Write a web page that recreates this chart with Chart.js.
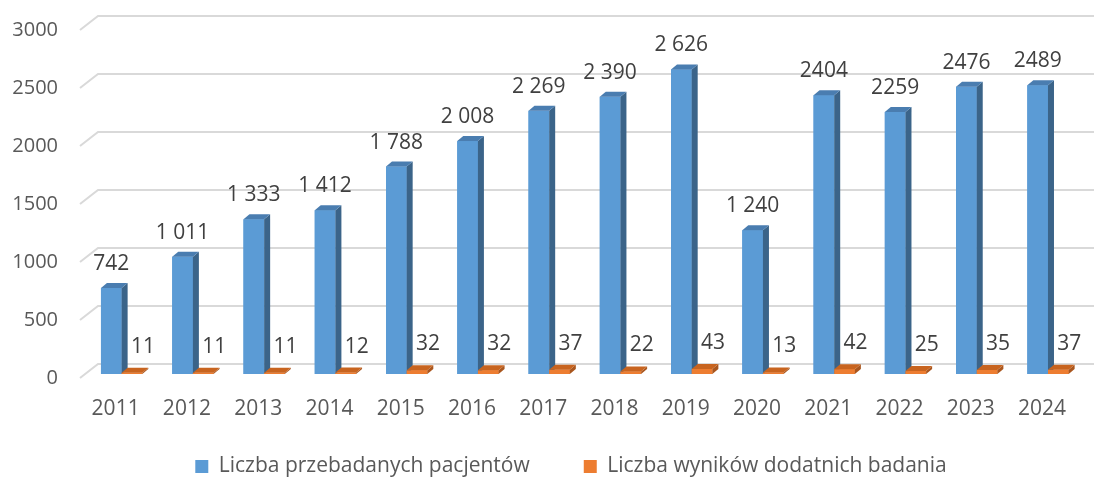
<!DOCTYPE html>
<html>
<head>
<meta charset="utf-8">
<script src="https://cdn.jsdelivr.net/npm/chart.js@4/dist/chart.umd.min.js"></script>
<style>
  html, body { margin: 0; padding: 0; background: #fff; overflow: hidden; }
  #wrap { width: 1094px; height: 477px; position: relative; }
</style>
</head>
<body>
<div id="wrap"><canvas id="grafico"></canvas></div>
<script>
const lata = ['2011', '2012', '2013', '2014', '2015', '2016', '2017', '2018', '2019', '2020', '2021', '2022', '2023', '2024'];
const pacjenci = [742, 1011, 1333, 1412, 1788, 2008, 2269, 2390, 2626, 1240, 2404, 2259, 2476, 2489];
const dodatnie = [11, 11, 11, 12, 32, 32, 37, 22, 43, 13, 42, 25, 35, 37];
const etykietyPacjenci = ['742', '1 011', '1 333', '1 412', '1 788', '2 008', '2 269', '2 390', '2 626', '1 240', '2404', '2259', '2476', '2489'];
const etykietyDodatnie = dodatnie.map(String);
const osY = [0, 500, 1000, 1500, 2000, 2500, 3000];

const FONT = '"Open Sans", sans-serif';
const glebokosc = { dx: 6, dy: 5 };

const kolory = [
    { front: '#5B9BD5', side: '#3B6489', top: '#4A7DB0' },
    { front: '#ED7D31', side: '#A9561E', top: '#C8641F' }
];

// siatka "3D": krotki skos z przodu + linia na tylnej scianie
const siatka3d = {
    id: 'siatka3d',
    beforeDatasetsDraw(chart) {
        const { ctx, scales: { y }, width } = chart;
        ctx.save();
        ctx.strokeStyle = '#D9D9D9';
        ctx.lineWidth = 2;
        osY.forEach(v => {
            const py = y.getPixelForValue(v);
            ctx.beginPath();
            ctx.moveTo(80, py + 4);
            ctx.lineTo(98, py - 10);
            ctx.lineTo(width, py - 10);
            ctx.stroke();
        });
        ctx.restore();
    }
};

function prostopadloscian(ctx, bar, kol) {
    const { x, y, base, width } = bar.getProps(['x', 'y', 'base', 'width'], true);
    const l = x - width / 2, r = x + width / 2;
    const { dx, dy } = glebokosc;
    ctx.fillStyle = kol.front;
    ctx.fillRect(l, y, width, base - y);
    ctx.fillStyle = kol.side;
    ctx.beginPath();
    ctx.moveTo(r, y);
    ctx.lineTo(r + dx, y - dy);
    ctx.lineTo(r + dx, base - dy);
    ctx.lineTo(r, base);
    ctx.closePath();
    ctx.fill();
    ctx.fillStyle = kol.top;
    ctx.beginPath();
    ctx.moveTo(l, y);
    ctx.lineTo(r, y);
    ctx.lineTo(r + dx, y - dy);
    ctx.lineTo(l + dx, y - dy);
    ctx.closePath();
    ctx.fill();
}

const slupki3d = {
    id: 'slupki3d',
    afterDatasetsDraw(chart) {
        const ctx = chart.ctx;
        const m0 = chart.getDatasetMeta(0).data;
        const m1 = chart.getDatasetMeta(1).data;
        ctx.save();
        lata.forEach((_, i) => {
            prostopadloscian(ctx, m0[i], kolory[0]);
            prostopadloscian(ctx, m1[i], kolory[1]);
        });
        ctx.font = '21px ' + FONT;
        ctx.fillStyle = '#404040';
        ctx.textAlign = 'center';
        ctx.textBaseline = 'middle';
        lata.forEach((_, i) => {
            ctx.fillText(etykietyPacjenci[i], m0[i].x, m0[i].y - 24);
            ctx.fillText(etykietyDodatnie[i], m1[i].x + 11, m1[i].y - 26);
        });
        ctx.restore();
    }
};

// osie maja stala wielkosc, etykiety nie sa przycinane do pudelka osi
const bezPrzyciecia = s => { s._computeLabelArea = () => undefined; };

const ctx = document.getElementById('grafico').getContext('2d');
new Chart(ctx, {
    type: 'bar',
    data: {
        labels: lata,
        datasets: [{
            label: 'Liczba przebadanych pacjentów',
            data: pacjenci,
            backgroundColor: kolory[0].front,
            categoryPercentage: 0.58,
            barPercentage: 1
        }, {
            label: 'Liczba wyników dodatnich badania',
            data: dodatnie,
            backgroundColor: kolory[1].front,
            categoryPercentage: 0.58,
            barPercentage: 1
        }]
    },
    options: {
        responsive: true,
        maintainAspectRatio: false,
        animation: false,
        layout: { padding: { left: 48, right: 0, top: 26, bottom: -10 } },
        plugins: {
            tooltip: { enabled: false },
            legend: {
                position: 'bottom',
                labels: {
                    boxWidth: 13,
                    boxHeight: 13,
                    padding: 54,
                    color: '#595959',
                    font: { family: FONT, size: 21 }
                }
            }
        },
        scales: {
            x: {
                grid: { display: false, drawTicks: false },
                border: { display: false },
                ticks: {
                    color: '#595959',
                    font: { family: FONT, size: 21 },
                    padding: 22,
                    labelOffset: -6,
                    maxRotation: 0,
                    autoSkip: false
                },
                afterFit: s => { s.height = 28; bezPrzyciecia(s); }
            },
            y: {
                min: 0,
                max: 3000,
                grid: { display: false, drawTicks: false },
                border: { display: false },
                ticks: {
                    stepSize: 500,
                    color: '#595959',
                    font: { family: FONT, size: 20 },
                    padding: 28,
                    labelOffset: 4,
                    callback: v => String(v)
                },
                afterFit: s => {
                    s.width = 38;
                    s.paddingTop = 0;
                    s.paddingBottom = 0;
                    bezPrzyciecia(s);
                }
            }
        }
    },
    plugins: [siatka3d, slupki3d]
});
</script>
</body>
</html>
